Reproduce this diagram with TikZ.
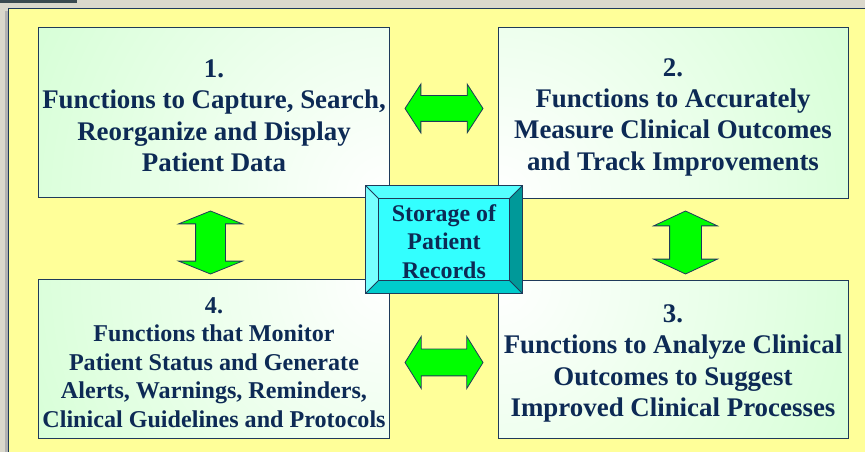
\documentclass[tikz,border=0pt]{standalone}
\usepackage{fontspec}
\setmainfont{Liberation Serif}
\usetikzlibrary{calc,shapes.arrows}
\definecolor{bgtexture}{HTML}{DAD8CC}
\definecolor{darkbar}{HTML}{3A4A50}
\definecolor{panelyellow}{HTML}{FFFF99}
\definecolor{boxgreen}{HTML}{CCFFCC}
\definecolor{boxline}{HTML}{1F3A5A}
\definecolor{textnavy}{HTML}{0D2A55}
\definecolor{arrowgreen}{HTML}{00FF00}
\definecolor{cyanface}{HTML}{33FFFF}
\definecolor{bevtop}{HTML}{55FFFF}
\definecolor{bevleft}{HTML}{77FFFF}
\definecolor{bevright}{HTML}{009999}
\definecolor{bevbottom}{HTML}{00CCCC}
\newcommand{\lowertext}[1]{\rule{0pt}{#1}}
\tikzset{
  funcbox/.style={draw=boxline, line width=1bp, fill=boxgreen, align=center, text=textnavy,
    font=\bfseries\fontsize{27}{31.5}\selectfont, minimum width=350bp, inner sep=0pt},
  lightcorner/.style={path picture={\shade[inner color=white, outer color=boxgreen]
    (path picture bounding box.#1) circle (500bp);}},
  storebox/.style={draw=boxline, line width=1bp, fill=cyanface, align=center, text=textnavy,
    font=\bfseries\fontsize{24}{28.5}\selectfont, minimum width=156bp, minimum height=107bp, inner sep=0pt},
  greenarrow/.style={double arrow, draw=boxline, fill=arrowgreen, line width=0.8bp,
    inner xsep=0pt, minimum width=0pt},
}

\begin{document}
\begin{tikzpicture}[x=1bp, y=-1bp]
			%%%%% START %%%%%
			\useasboundingbox (0, 0) rectangle (865, 452);
			\fill[bgtexture] (0, 0) rectangle (865, 452);
			\fill[darkbar] (0, 0) rectangle (77, 3);
			
			\fill[gray!60] (5, 11) rectangle (8, 452);
			\fill[panelyellow] (8, 9) rectangle (870, 460);
			\draw[boxline, line width=1bp] (8, 460) -- (8, 9) -- (870, 9);
			
			\node[funcbox, minimum height=170bp, lightcorner=south east] (capture) at (214, 113)
				{\lowertext{23bp}1.\\Functions to Capture, Search,\\Reorganize and Display\\Patient Data};
			\node[funcbox, minimum height=171bp, lightcorner=south west] (measure) at (673, 113.5)
				{\lowertext{25bp}2.\\Functions to Accurately\\Measure Clinical Outcomes\\and Track Improvements};
			\node[funcbox, minimum height=157bp, lightcorner=north west] (analyze) at (673, 359.5)
				{\lowertext{26bp}3.\\Functions to Analyze Clinical\\Outcomes to Suggest\\Improved Clinical Processes};
			\node[funcbox, minimum height=158bp, lightcorner=north east,
				font=\bfseries\fontsize{24.2}{28.7}\selectfont] (monitor) at (214, 359)
				{\lowertext{23bp}4.\\Functions that Monitor\\Patient Status and Generate\\Alerts, Warnings, Reminders,\\Clinical Guidelines and Protocols};
			
			\node[greenarrow, minimum height=78bp, inner ysep=12.5bp, double arrow head extend=11.5bp,
				double arrow tip angle=114] (arrowtop) at (444, 108.5) {};
			\node[greenarrow, minimum height=78bp, inner ysep=13bp, double arrow head extend=12.5bp,
				double arrow tip angle=116] (arrowbottom) at (444, 362.5) {};
			\node[greenarrow, rotate=90, minimum height=63bp, inner ysep=14.5bp, double arrow head extend=17bp,
				double arrow tip angle=136] (arrowleft) at (210.5, 242.5) {};
			\node[greenarrow, rotate=90, minimum height=63bp, inner ysep=15.5bp, double arrow head extend=16bp,
				double arrow tip angle=130] (arrowright) at (685.5, 242.5) {};
			
			\node[storebox] (storage) at (444, 239.5) {\lowertext{21bp}Storage of\\Patient\\Records};
			\coordinate (innw) at ($(storage.north west)+(13, 13)$);
			\coordinate (inne) at ($(storage.north east)+(-13, 13)$);
			\coordinate (inse) at ($(storage.south east)+(-13, -13)$);
			\coordinate (insw) at ($(storage.south west)+(13, -13)$);
			\fill[bevtop] (storage.north west) -- (storage.north east) -- (inne) -- (innw) -- cycle;
			\fill[bevleft] (storage.north west) -- (innw) -- (insw) -- (storage.south west) -- cycle;
			\fill[bevright] (storage.north east) -- (storage.south east) -- (inse) -- (inne) -- cycle;
			\fill[bevbottom] (storage.south west) -- (insw) -- (inse) -- (storage.south east) -- cycle;
			\draw[boxline, line width=1bp] (storage.north west) rectangle (storage.south east);
			\draw[boxline, line width=1bp] (innw) -- (inne) -- (inse) -- (insw) -- cycle;
			\draw[boxline, line width=1bp] (storage.north west) -- (innw) (storage.north east) -- (inne)
				(storage.south east) -- (inse) (storage.south west) -- (insw);
			
			%%%%% END %%%%%
\end{tikzpicture}
\end{document}
